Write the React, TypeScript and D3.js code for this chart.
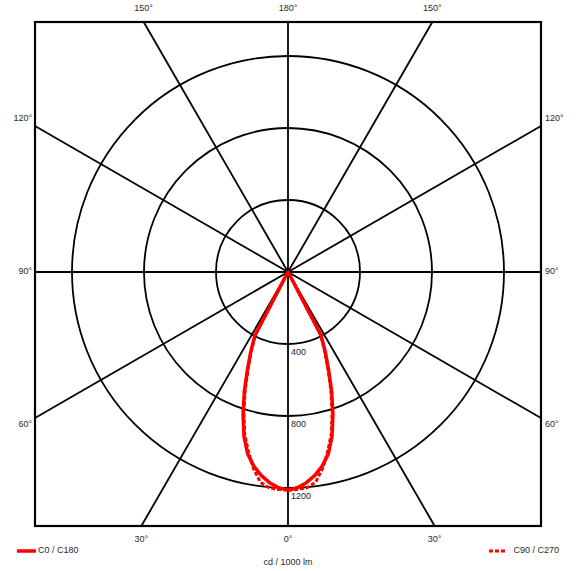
import React from "react";
import * as d3 from "d3";

// Luminous intensity distribution (cd / 1000 lm) sampled at gamma angles (degrees from nadir)
const gammaAngles = [0, 2.5, 5, 7.5, 10, 12.5, 15, 17.5, 20, 22.5, 25, 27.5, 30, 32.5, 35, 45, 60, 90, 120, 150, 180];
const c0c180 = [1212, 1200, 1175, 1140, 1095, 1035, 945, 830, 710, 590, 490, 400, 10, 0, 0, 0, 0, 0, 0, 0, 0];
const c90c270 = [1212, 1210, 1203, 1178, 1108, 1020, 930, 815, 695, 578, 478, 392, 10, 0, 0, 0, 0, 0, 0, 0, 0];

const ringValues = [400, 800, 1200];
const spokeAngles = [0, 30, 60, 90, 120, 150, 180, 210, 240, 270, 300, 330];
const seriesNames = ["C0 / C180", "C90 / C270"];
const unitLabel = "cd / 1000 lm";

const W = 576;
const H = 571;
const box = { x0: 35, x1: 541, y0: 22, y1: 526 };
const cx = 288;
const cy = 272;
const RED = "#ff0000";
const TXT = "#2a2a2a";
const FONT = "'Liberation Sans', Arial, sans-serif";

const r = d3.scaleLinear().domain([0, 1200]).range([0, 216]);
const rad = (deg: number) => (deg * Math.PI) / 180;

// closed outline: right half plane (C0 / C90) then left half plane (C180 / C270)
function outline(values: number[]) {
  const pts: [number, number][] = [];
  gammaAngles.forEach((g, i) => pts.push([Math.PI - rad(g), r(values[i])]));
  for (let i = gammaAngles.length - 1; i >= 0; i--) pts.push([Math.PI + rad(gammaAngles[i]), r(values[i])]);
  return d3.lineRadial<[number, number]>().angle((d) => d[0]).radius((d) => d[1])(pts) || "";
}

// end point of a spoke drawn from the centre to the frame
function spokeEnd(deg: number) {
  const dx = Math.sin(rad(deg));
  const dy = Math.cos(rad(deg));
  const tx = dx > 1e-9 ? (box.x1 - cx) / dx : dx < -1e-9 ? (box.x0 - cx) / dx : Infinity;
  const ty = dy > 1e-9 ? (box.y1 - cy) / dy : dy < -1e-9 ? (box.y0 - cy) / dy : Infinity;
  const t = Math.min(tx, ty);
  return { x: cx + dx * t, y: cy + dy * t, side: tx < ty ? "lr" : "tb", dx, dy };
}

function angleLabel(deg: number) {
  const a = deg > 180 ? 360 - deg : deg;
  return `${a}°`;
}

export default function App() {
  const spokes = spokeAngles.map((a) => ({ a, ...spokeEnd(a) }));
  return (
    <svg
      width={W}
      height={H}
      style={{ position: "absolute", left: 0, top: 0, background: "#fff" }}
      fontFamily={FONT}
    >
      <rect x={0} y={0} width={W} height={H} fill="#fff" />
      {/* rings */}
      {ringValues.map((v) => (
        <circle key={v} cx={cx} cy={cy} r={r(v)} fill="none" stroke="#000" strokeWidth={1.8} />
      ))}
      {/* spokes */}
      {spokes.map((s) => (
        <line key={s.a} x1={cx} y1={cy} x2={s.x} y2={s.y} stroke="#000" strokeWidth={1.8} />
      ))}
      {/* frame */}
      <rect
        x={box.x0}
        y={box.y0}
        width={box.x1 - box.x0}
        height={box.y1 - box.y0}
        fill="none"
        stroke="#000"
        strokeWidth={2.2}
      />
      {/* ring values */}
      {ringValues.map((v) => (
        <text key={v} x={cx + 3} y={cy + r(v) + 9} fontSize={9} fill="#223" dominantBaseline="middle">
          {v}
        </text>
      ))}
      {/* curves */}
      <path
        d={outline(c90c270)}
        transform={`translate(${cx},${cy})`}
        fill="none"
        stroke={RED}
        strokeWidth={3}
        strokeDasharray="4 2"
        strokeLinejoin="round"
      />
      <path
        d={outline(c0c180)}
        transform={`translate(${cx},${cy})`}
        fill="none"
        stroke={RED}
        strokeWidth={3.5}
        strokeLinejoin="round"
      />
      {/* angle labels */}
      {spokes.map((s) => {
        if (s.side === "tb") {
          const y = s.dy < 0 ? box.y0 - 13 : box.y1 + 14;
          return (
            <text key={s.a} x={s.x} y={y} fontSize={9} fill={TXT} textAnchor="middle" dominantBaseline="middle">
              {angleLabel(s.a)}
            </text>
          );
        }
        const left = s.dx < 0;
        return (
          <text
            key={s.a}
            x={left ? box.x0 - 3 : box.x1 + 4}
            y={s.y + 14 * s.dy}
            fontSize={9}
            fill={TXT}
            textAnchor={left ? "end" : "start"}
            dominantBaseline="middle"
          >
            {angleLabel(s.a)}
          </text>
        );
      })}
      {/* legend */}
      <line x1={17} x2={36} y1={551} y2={551} stroke={RED} strokeWidth={3.5} />
      <text x={38} y={551} fontSize={9} fill={TXT} dominantBaseline="middle">
        {seriesNames[0]}
      </text>
      <line x1={489} x2={507} y1={551} y2={551} stroke={RED} strokeWidth={3} strokeDasharray="4 2" />
      <text x={559} y={551} fontSize={9} fill={TXT} textAnchor="end" dominantBaseline="middle">
        {seriesNames[1]}
      </text>
      <text x={cx} y={563} fontSize={9} fill={TXT} textAnchor="middle" dominantBaseline="middle">
        {unitLabel}
      </text>
    </svg>
  );
}
